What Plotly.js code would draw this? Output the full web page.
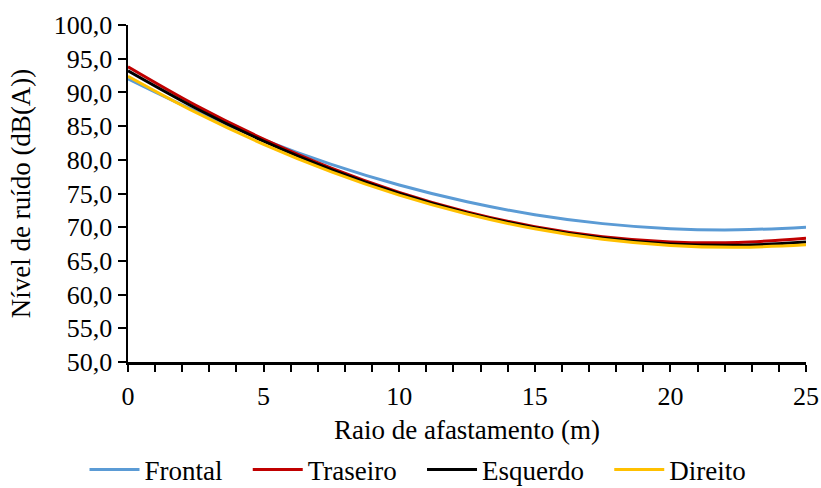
<!DOCTYPE html>
<html>
<head>
<meta charset="utf-8">
<script src="https://cdn.plot.ly/plotly-3.0.1.min.js"></script>
<style>
  html, body { margin: 0; padding: 0; background: #fff; }
  #chart { width: 821px; height: 488px; }
</style>
</head>
<body>
<div id="chart"></div>
<script>
// Distance from the source (m)
const raio = [0, 2.5, 5, 7.5, 10, 12.5, 15, 17.5, 20, 22.5, 25];

// Noise level by side, dB(A)
const frontal   = [92.00, 87.20, 82.97, 79.33, 76.26, 73.77, 71.86, 70.53, 69.78, 69.61, 70.01];
const traseiro  = [93.80, 88.08, 83.08, 78.77, 75.17, 72.27, 70.08, 68.60, 67.82, 67.74, 68.37];
const esquerdo  = [93.20, 87.65, 82.77, 78.55, 75.01, 72.13, 69.93, 68.39, 67.52, 67.32, 67.79];
const direito   = [92.40, 87.03, 82.30, 78.21, 74.76, 71.95, 69.76, 68.21, 67.30, 67.03, 67.40];

const nomes = ['Frontal', 'Traseiro', 'Esquerdo', 'Direito'];
const series = [frontal, traseiro, esquerdo, direito];
const cores = ['#5B9BD5', '#C00000', '#000000', '#FFC000'];

const fonte = 'Liberation Serif, Times New Roman, serif';
// extra room after each legend entry except the last
const pad = '\u00a0\u00a0\u00a0';

const traces = series.map((ys, i) => ({
  x: raio,
  y: ys,
  name: nomes[i] + (i < nomes.length - 1 ? pad : ''),
  type: 'scatter',
  mode: 'lines',
  line: { color: cores[i], width: 3, shape: 'spline', smoothing: 1 }
}));

const layout = {
  width: 821,
  height: 488,
  margin: { l: 128, r: 15, t: 25, b: 126, autoexpand: false },
  paper_bgcolor: '#ffffff',
  plot_bgcolor: '#ffffff',
  separators: ',.',
  font: { family: fonte, size: 26, color: '#000' },
  showlegend: true,
  legend: {
    orientation: 'h',
    x: 418 / 821, xanchor: 'center', xref: 'container',
    y: 18 / 488, yanchor: 'middle', yref: 'container',
    font: { family: fonte, size: 27, color: '#000' },
    itemwidth: 50,
    tracegroupgap: 0
  },
  xaxis: {
    range: [0, 25],
    dtick: 5,
    tick0: 0,
    ticks: 'outside',
    ticklen: 7,
    tickwidth: 2,
    tickcolor: '#000',
    ticklabelstandoff: 2,
    minor: { dtick: 1, ticks: 'outside', ticklen: 7, tickwidth: 2, tickcolor: '#000' },
    showline: true,
    linecolor: '#000',
    linewidth: 2.5,
    showgrid: false,
    zeroline: false,
    automargin: false,
    tickfont: { family: fonte, size: 26, color: '#000' },
    title: { text: 'Raio de afastamento (m)', font: { family: fonte, size: 27, color: '#000' }, standoff: 18 }
  },
  yaxis: {
    range: [50, 100],
    dtick: 5,
    tick0: 50,
    tickformat: '.1f',
    ticks: 'outside',
    ticklen: 8,
    tickwidth: 2,
    tickcolor: '#000',
    showline: true,
    linecolor: '#000',
    linewidth: 2.5,
    showgrid: false,
    zeroline: false,
    automargin: false,
    tickfont: { family: fonte, size: 26, color: '#000' },
    title: { text: 'Nível de ruído (dB(A))', font: { family: fonte, size: 27, color: '#000' }, standoff: 16 }
  }
};

Plotly.newPlot('chart', traces, layout, { displayModeBar: false, staticPlot: true });
</script>
</body>
</html>
